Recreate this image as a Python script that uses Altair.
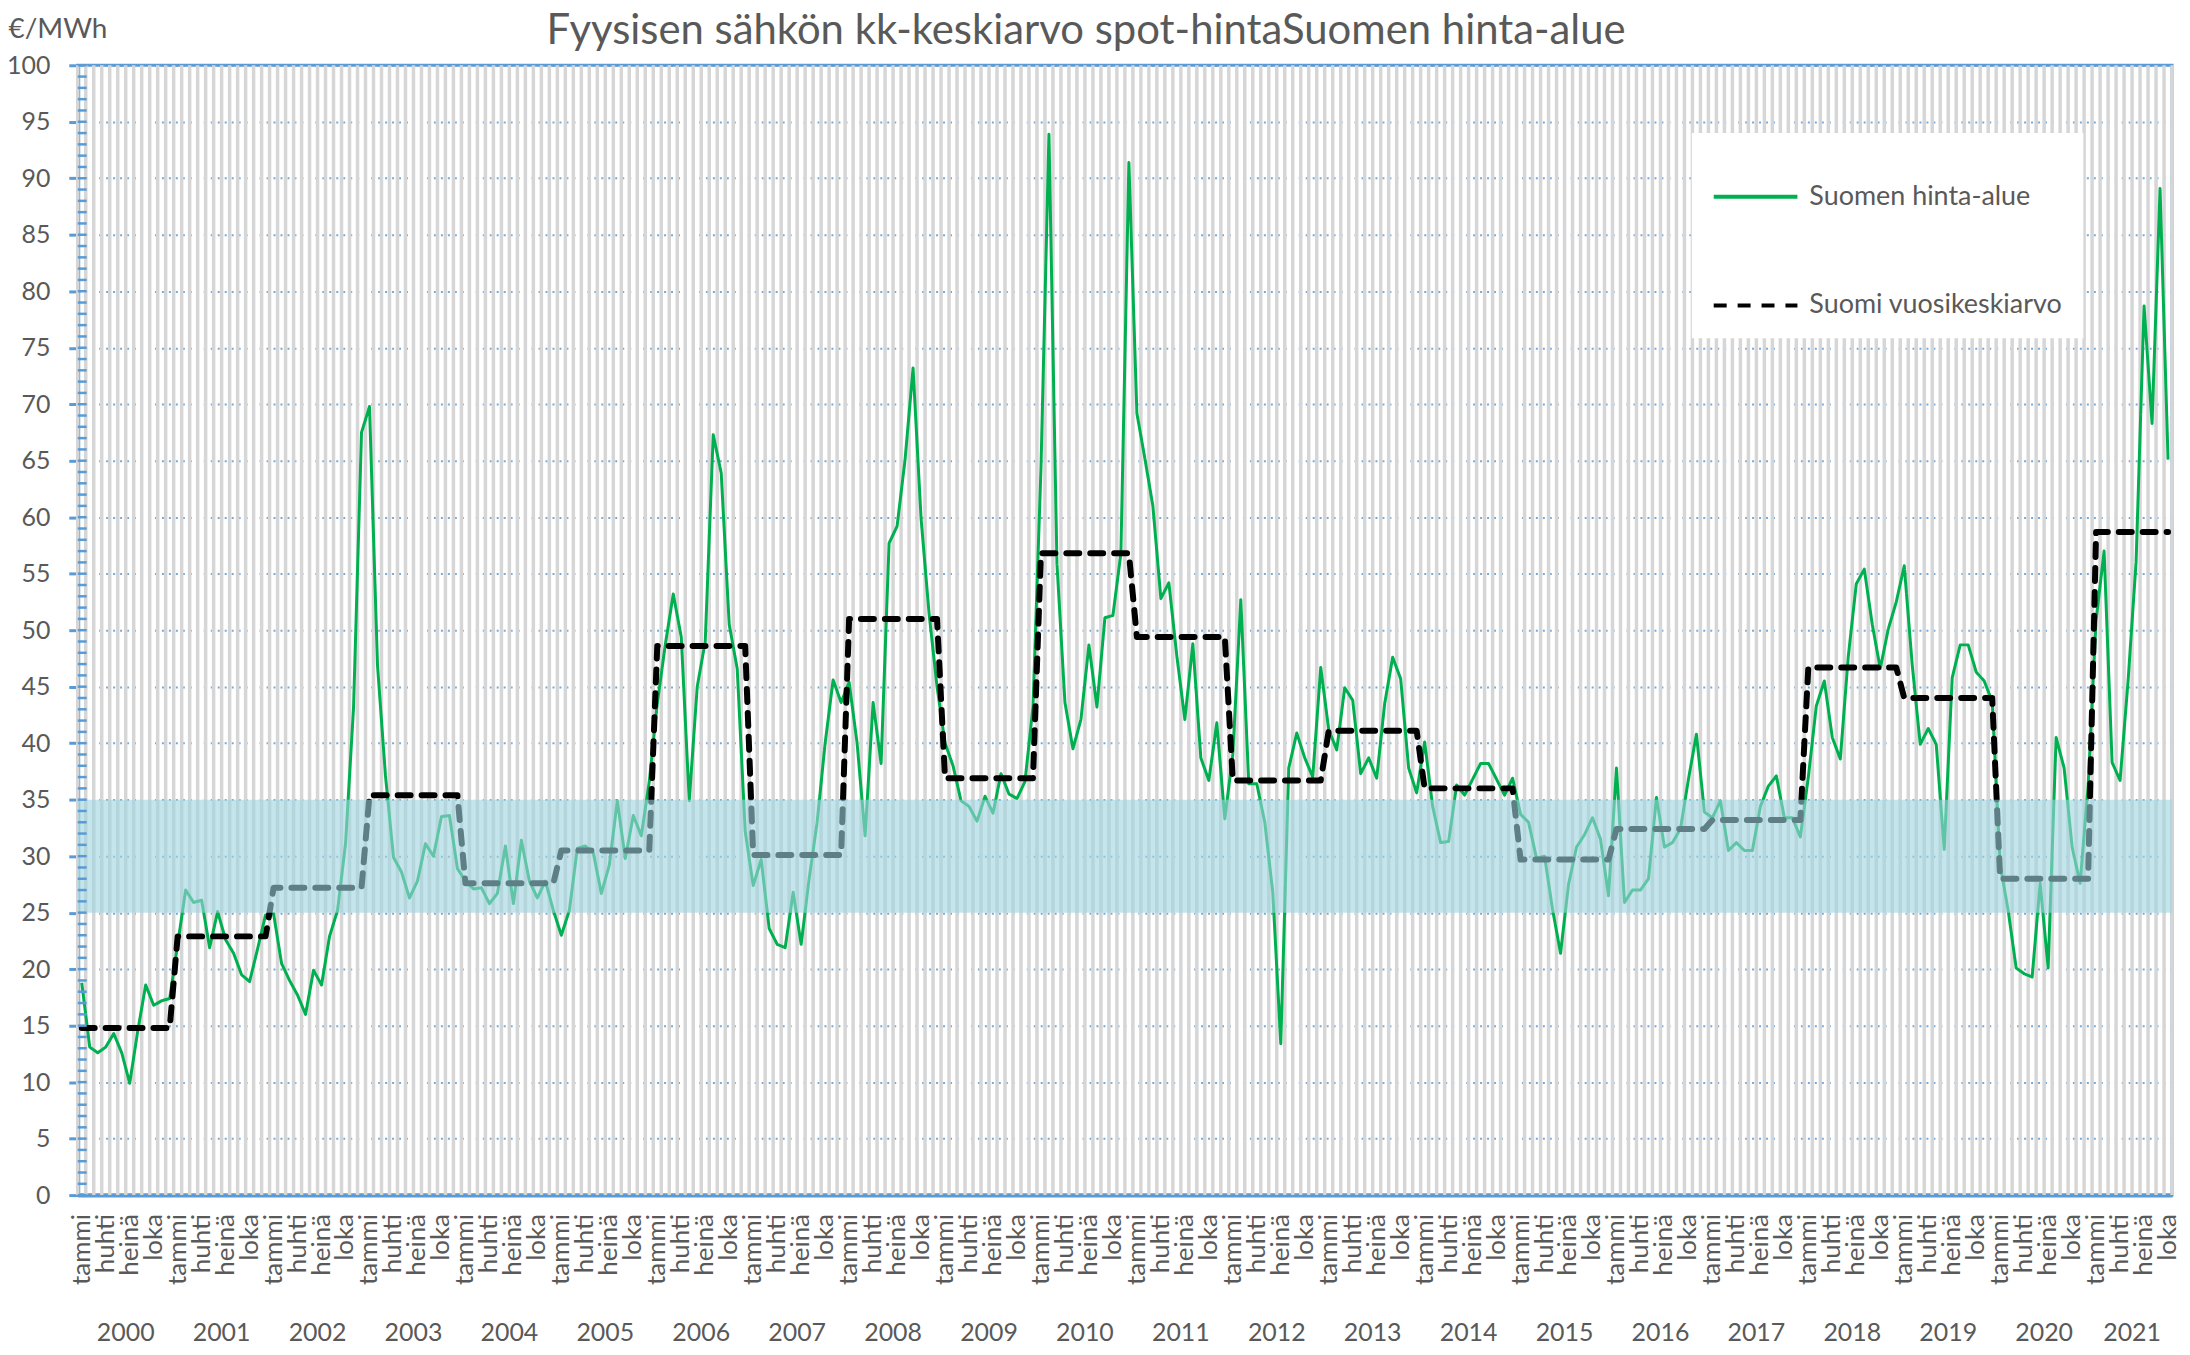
import altair as alt
import pandas as pd

# ---------------- data ----------------
title_text = "Fyysisen sähkön kk-keskiarvo spot-hintaSuomen hinta-alue"
y_unit = "€/MWh"
series_names = ["Suomen hinta-alue", "Suomi vuosikeskiarvo"]
month_labels = ["tammi", "huhti", "heinä", "loka"]
years = list(range(2000, 2022))

v2000 = [18.8, 13.1, 12.6, 13.1, 14.3, 12.6, 9.9, 14.5, 18.6, 16.8, 17.2, 17.4]
v2001 = [22.2, 27.0, 25.9, 26.1, 21.9, 25.1, 22.6, 21.4, 19.5, 18.9, 21.8, 24.8]
v2002 = [24.9, 20.5, 19.0, 17.7, 16.0, 19.9, 18.6, 22.9, 25.2, 31.1, 43.1, 67.5]
v2003 = [69.8, 46.9, 37.1, 29.9, 28.6, 26.3, 27.8, 31.1, 30.0, 33.5, 33.6, 28.9]
v2004 = [27.8, 27.1, 27.2, 25.8, 26.7, 30.9, 25.8, 31.4, 27.8, 26.3, 27.8, 25.2]
v2005 = [23.0, 25.2, 30.7, 30.9, 30.3, 26.7, 29.2, 34.9, 29.8, 33.6, 31.8, 36.6]
v2006 = [43.5, 48.7, 53.2, 49.4, 34.9, 45.0, 49.0, 67.3, 63.9, 50.5, 46.6, 32.2]
v2007 = [27.4, 29.7, 23.6, 22.2, 21.9, 26.8, 22.2, 28.0, 33.0, 40.0, 45.6, 43.6]
v2008 = [45.4, 40.0, 31.8, 43.6, 38.2, 57.7, 59.2, 65.1, 73.2, 59.9, 51.5, 45.0]
v2009 = [40.0, 38.0, 34.9, 34.4, 33.1, 35.3, 33.8, 37.3, 35.5, 35.1, 36.6, 43.2]
v2010 = [64.3, 93.9, 55.9, 43.6, 39.5, 42.1, 48.7, 43.2, 51.1, 51.3, 56.8, 91.4]
v2011 = [69.2, 65.2, 61.0, 52.8, 54.2, 47.7, 42.1, 48.8, 38.7, 36.7, 41.8, 33.3]
v2012 = [39.0, 52.7, 36.4, 36.4, 33.0, 26.8, 13.4, 37.8, 40.9, 38.7, 37.0, 46.7]
v2013 = [41.2, 39.4, 44.9, 43.8, 37.3, 38.7, 36.9, 43.5, 47.6, 45.7, 37.8, 35.6]
v2014 = [40.1, 34.4, 31.2, 31.3, 36.3, 35.4, 36.8, 38.2, 38.2, 36.8, 35.4, 36.9]
v2015 = [33.7, 33.0, 29.8, 30.0, 25.3, 21.4, 27.5, 30.8, 31.9, 33.4, 31.5, 26.5]
v2016 = [37.8, 25.9, 27.0, 27.0, 28.0, 35.2, 30.8, 31.2, 32.4, 36.8, 40.8, 33.9]
v2017 = [33.4, 34.9, 30.5, 31.2, 30.5, 30.5, 34.4, 36.2, 37.1, 33.4, 33.4, 31.7]
v2018 = [37.0, 43.3, 45.5, 40.5, 38.6, 47.7, 54.1, 55.4, 50.5, 46.6, 50.1, 52.5]
v2019 = [55.7, 46.9, 39.9, 41.3, 39.9, 30.6, 45.8, 48.7, 48.7, 46.3, 45.5, 43.7]
v2020 = [29.2, 25.2, 20.1, 19.6, 19.3, 27.6, 20.1, 40.5, 37.8, 30.8, 27.6, 36.2]
v2021 = [50.9, 57.0, 38.3, 36.7, 45.5, 56.0, 78.7, 68.3, 89.1, 65.1]

annual_avg = [14.8, 22.9, 27.2, 35.4, 27.6, 30.5, 48.6, 30.1, 51.0, 36.9, 56.8,
              49.4, 36.7, 41.1, 36.0, 29.7, 32.4, 33.2, 46.7, 44.0, 28.0, 58.7]

band_low = [25]
band_high = [35]
y_ticks = list(range(0, 101, 5))

monthly = [v2000, v2001, v2002, v2003, v2004, v2005, v2006, v2007, v2008, v2009, v2010,
           v2011, v2012, v2013, v2014, v2015, v2016, v2017, v2018, v2019, v2020, v2021]

# ---------------- tables built from the lists ----------------
rows = []
year_rows = []
m = 0
for i, yr in enumerate(years):
    start = m
    for v in monthly[i]:
        rows.append({"m": m + 0.5, "value": v, "series": series_names[0]})
        rows.append({"m": m + 0.5, "value": annual_avg[i], "series": series_names[1]})
        m += 1
    year_rows.append({"c": (start + m) / 2, "label": str(yr)})
N = m
df = pd.DataFrame(rows)
ydf = pd.DataFrame(year_rows)
mdf = pd.DataFrame([{"m": k + 0.5, "label": month_labels[(k // 3) % 4]} for k in range(0, N, 3)])

W, H = 2102, 1134
FONT = "Lato"
TXT = "#595959"
BLUE = "#5B9BD5"

xscale = alt.Scale(domain=[0, N], nice=False, zero=False)
yscale = alt.Scale(domain=[0, 100], nice=False, zero=True)

legend_kw = dict(title=None, orient="none", legendX=1620, legendY=68, fillColor="white",
                 padding=20, rowPadding=52, labelFont=FONT, labelFontSize=27, labelColor=TXT,
                 labelOffset=10, labelLimit=400, symbolType="stroke", symbolSize=7056,
                 symbolStrokeWidth=4)
color_enc = alt.Color("series:N", scale=alt.Scale(domain=series_names, range=["#00B050", "#000000"]),
                      legend=alt.Legend(**legend_kw))
dash_enc = alt.StrokeDash("series:N", scale=alt.Scale(domain=series_names, range=[[1, 0], [13, 11]]),
                          legend=alt.Legend(**legend_kw))

x_axis = alt.Axis(labels=False, ticks=False, grid=False, domainColor=BLUE, domainWidth=4, title=None)
y_axis = alt.Axis(values=y_ticks, title=y_unit, titleAngle=0, titleAlign="left",
                  titleBaseline="bottom", titleX=-70, titleY=-22, titleFont=FONT,
                  titleFontSize=28, titleFontWeight="normal", titleColor=TXT,
                  labelFont=FONT, labelFontSize=25, labelColor=TXT, labelPadding=19,
                  tickSize=9, tickWidth=3, tickColor=BLUE, domainColor=BLUE, domainWidth=4,
                  grid=True, gridColor=BLUE, gridDash=[2, 5], gridWidth=2, gridOpacity=0.85)

stripes = alt.Chart(pd.DataFrame({"b": list(range(N + 1))})).mark_rule(
    color="#d6d6d6", strokeWidth=3.5).encode(
    x=alt.X("b:Q", scale=xscale), y=alt.value(0), y2=alt.value(H))

green = alt.Chart(df).transform_filter(alt.datum.series == series_names[0]).mark_line(
    strokeWidth=3, strokeJoin="round").encode(
    x=alt.X("m:Q", scale=xscale, axis=x_axis),
    y=alt.Y("value:Q", scale=yscale, axis=y_axis),
    color=color_enc, strokeDash=dash_enc)

dashed = alt.Chart(df).transform_filter(alt.datum.series == series_names[1]).mark_line(
    strokeWidth=6, strokeCap="round", strokeJoin="round").encode(
    x=alt.X("m:Q", scale=xscale),
    y=alt.Y("value:Q", scale=yscale),
    color=color_enc, strokeDash=dash_enc)

band = alt.Chart(pd.DataFrame({"lo": band_low, "hi": band_high})).mark_rect(
    color="#9ED3E0", opacity=0.6).encode(
    y=alt.Y("lo:Q", scale=yscale), y2="hi:Q", x=alt.value(0), x2=alt.value(W))

minor = alt.Chart(pd.DataFrame({"t": list(range(0, 101))})).mark_rule(
    color=BLUE, strokeWidth=2.5).encode(
    y=alt.Y("t:Q", scale=yscale), x=alt.value(0), x2=alt.value(9))

month_text = alt.Chart(mdf).mark_text(font=FONT, fontSize=26, color=TXT, align="right",
                                      baseline="middle", angle=270).encode(
    x=alt.X("m:Q", scale=xscale), y=alt.value(H + 19), text="label:N")

year_text = alt.Chart(ydf).mark_text(font=FONT, fontSize=25, color=TXT, align="center",
                                     baseline="middle").encode(
    x=alt.X("c:Q", scale=xscale), y=alt.value(H + 138), text="label:N")

title_mark = alt.Chart(pd.DataFrame({"t": [title_text]})).mark_text(
    font=FONT, fontSize=42, color=TXT, align="center", baseline="bottom").encode(
    x=alt.value(1012), y=alt.value(-12), text="t:N")

chart = alt.layer(stripes, green, dashed, band, minor, month_text, year_text, title_mark).properties(
    width=W, height=H,
    autosize=alt.AutoSizeParams(type="none"),
    padding={"left": 70, "top": 55, "right": 10, "bottom": 160},
    background="white",
).configure_view(stroke=BLUE, strokeWidth=3)

chart.save("out.html", embed_options={"renderer": "svg", "actions": False})
